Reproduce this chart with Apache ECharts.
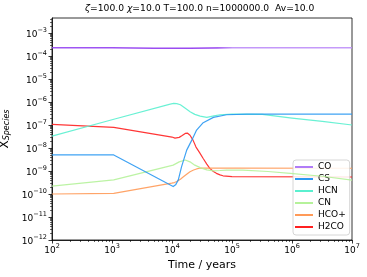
<!DOCTYPE html>
<html><head><meta charset="utf-8">
<script src="https://cdn.jsdelivr.net/npm/echarts@6/dist/echarts.min.js"></script>
<style>html,body{margin:0;padding:0;background:#fff}#c{width:367px;height:277px}</style>
</head><body><div id="c"></div>
<script>
// ---- data ----
const speciesNames = ['CO', 'CS', 'HCN', 'CN', 'HCO+', 'H2CO'];
const colors = ['#8f3cf5', '#2a98f2', '#5af0cf', '#b5f29a', '#ff9a58', '#ff2020'];

const tCO = [1e2, 1e3, 5e3, 1e4, 2e4, 1e5, 1e6, 1e7];
const xCO = [2.3e-4, 2.3e-4, 2.2e-4, 2.15e-4, 2.2e-4, 2.3e-4, 2.3e-4, 2.3e-4];

const tCS = [1e2, 1070, 10470, 11480, 12740, 14450, 17580, 21380, 25700, 33110, 48980, 81280, 177800, 1e7];
const xCS = [5.0e-9, 5.0e-9, 2.1e-10, 2.5e-10, 4.1e-10, 1.55e-9, 8.1e-9, 2.2e-8, 6.0e-8, 1.26e-7, 2.15e-7, 2.8e-7, 3.0e-7, 3.0e-7];

const tHCN = [1e2, 1e3, 9330, 10700, 12000, 13800, 15800, 17800, 20000, 24000, 29500, 38000, 50100, 63100, 1e5, 3.2e5, 1e6, 3.2e6, 1e7];
const xHCN = [3.3e-8, 1.7e-7, 8.1e-7, 8.7e-7, 8.5e-7, 7.6e-7, 5.9e-7, 4.7e-7, 3.8e-7, 2.9e-7, 2.45e-7, 2.15e-7, 2.5e-7, 2.8e-7, 3.0e-7, 2.9e-7, 2.0e-7, 1.45e-7, 1.0e-7];

const tCN = [1e2, 1070, 10470, 13180, 16600, 19950, 23990, 29510, 38020, 48980, 63100, 81280, 151400, 398100, 933300, 3.16e6, 1e7];
const xCN = [2.2e-10, 4.1e-10, 1.8e-9, 2.5e-9, 3.0e-9, 2.5e-9, 1.8e-9, 1.4e-9, 1.12e-9, 1.02e-9, 1.05e-9, 1.1e-9, 1.1e-9, 9.5e-10, 7.9e-10, 5.9e-10, 4.0e-10];

const tHCOp = [1e2, 1070, 9886, 10960, 12020, 13800, 15490, 17780, 19950, 22910, 25700, 28840, 33110, 1e5, 1e7];
const xHCOp = [1.0e-10, 1.07e-10, 2.95e-10, 3.15e-10, 3.5e-10, 4.4e-10, 5.6e-10, 7.4e-10, 9.3e-10, 1.1e-9, 1.23e-9, 1.32e-9, 1.35e-9, 1.33e-9, 1.32e-9];

const tH2CO = [1e2, 1070, 1e4, 11220, 12020, 13180, 14790, 16600, 18200, 19950, 22390, 25120, 28840, 33110, 38020, 42660, 48980, 54950, 63100, 70790, 1e5, 1e7];
const xH2CO = [1.07e-7, 7.9e-8, 3.0e-8, 2.7e-8, 2.6e-8, 2.9e-8, 3.5e-8, 4.3e-8, 4.4e-8, 3.6e-8, 2.2e-8, 1.1e-8, 6.3e-9, 3.5e-9, 2.0e-9, 1.3e-9, 9.5e-10, 7.9e-10, 6.8e-10, 6.2e-10, 5.75e-10, 5.5e-10];

const xMajor = [1e2, 1e3, 1e4, 1e5, 1e6, 1e7];
const yMajor = [1e-12, 1e-11, 1e-10, 1e-9, 1e-8, 1e-7, 1e-6, 1e-5, 1e-4, 1e-3];
const xMin = 1e2, xMax = 1e7, yMin = 1e-12, yMax = 4.5e-3;

const titleText = '{i|ζ}=100.0 {i|χ}=10.0 T=100.0 n=1000000.0  Av=10.0';
// ---------------------------------------

function minors(lo, hi) {
  const out = [];
  for (let e = Math.floor(Math.log10(lo)); e <= Math.ceil(Math.log10(hi)); e++) {
    for (let k = 2; k <= 9; k++) {
      const v = k * Math.pow(10, e);
      if (v > lo && v < hi) out.push(v);
    }
  }
  return out;
}
const FF = 'DejaVu Sans';
function pow10Label(v) {
  const e = Math.round(Math.log10(v));
  return '{b|10}{s|' + (e < 0 ? '\u2212' + (-e) : e) + '}';
}
const richLab = {
  b: { fontSize: 9, fontFamily: FF, color: '#000', padding: [3, 0, 0, 0] },
  s: { fontSize: 6.5, fontFamily: FF, color: '#000', verticalAlign: 'top' }
};
function zip(t, x) { return t.map((v, i) => [v, x[i]]); }

const seriesData = [zip(tCO, xCO), zip(tCS, xCS), zip(tHCN, xHCN), zip(tCN, xCN), zip(tHCOp, xHCOp), zip(tH2CO, xH2CO)];

const series = speciesNames.map((n, i) => ({
  name: n, type: 'line', data: seriesData[i], xAxisIndex: 0, yAxisIndex: 0,
  showSymbol: false, symbol: 'none', smooth: false, silent: true,
  lineStyle: {
    width: i === 0 ? 1.5 : 1.2, opacity: 0.9, join: 'round',
    color: i === 0 ? { type: 'linear', x: 0, y: 0, x2: 1, y2: 0, colorStops: [
      { offset: 0, color: '#9545f2' }, { offset: 0.55, color: '#8d33ee' },
      { offset: 0.6, color: '#bc8cf8' }, { offset: 1, color: '#bf90f9' }] } : colors[i]
  },
  itemStyle: { color: i === 0 ? '#b07cf7' : colors[i] },
  z: 2 + (5 - i)
}));

const axisLineStyle = { color: '#000', width: 0.8 };
const chart = echarts.init(document.getElementById('c'), null, { renderer: 'canvas' });
chart.setOption({
  animation: false,
  backgroundColor: '#fff',
  title: {
    text: titleText, left: 85, top: 4, padding: 0,
    textStyle: { fontSize: 9.2, fontWeight: 'normal', fontFamily: FF, color: '#000',
      rich: { i: { fontSize: 9.2, fontStyle: 'italic', fontFamily: FF, color: '#000' } } }
  },
  grid: { left: 52, right: 15, top: 18, bottom: 37, show: true, borderColor: '#000', borderWidth: 0.8,
    containLabel: false, outerBoundsMode: 'none' },
  legend: {
    data: speciesNames, orient: 'vertical', left: 293, top: 160,
    width: 55, padding: [2, 4, 3, 2], itemGap: 2, itemWidth: 18, itemHeight: 2,
    icon: 'rect', backgroundColor: 'rgba(255,255,255,0.85)', borderColor: '#cccccc', borderWidth: 0.8, borderRadius: 3,
    textStyle: { fontSize: 9, fontFamily: FF, color: '#000', lineHeight: 10, padding: [0, 0, 0, 0] },
    itemStyle: { opacity: 1 }, selectedMode: false
  },
  xAxis: [{
    type: 'log', logBase: 10, min: xMin, max: xMax, position: 'bottom',
    name: 'Time / years', nameLocation: 'middle', nameGap: 20,
    nameTextStyle: { fontSize: 11, fontFamily: FF, color: '#000' },
    axisLine: { show: true, lineStyle: axisLineStyle },
    axisTick: { show: true, inside: false, length: 3.5, customValues: xMajor, lineStyle: axisLineStyle },
    axisLabel: { customValues: xMajor, formatter: pow10Label, rich: richLab, margin: 3, color: '#000' },
    splitLine: { show: false }, minorTick: { show: false }
  }, {
    type: 'log', logBase: 10, min: xMin, max: xMax, position: 'bottom', offset: 0,
    axisLine: { show: false },
    axisTick: { show: true, inside: false, length: 2, customValues: minors(xMin, xMax), lineStyle: { color: '#000', width: 0.6 } },
    axisLabel: { show: false }, splitLine: { show: false }
  }],
  yAxis: [{
    type: 'log', logBase: 10, min: yMin, max: yMax, position: 'left',
    name: '{x|X}{s|Species}', nameLocation: 'middle', nameRotate: 90, nameGap: 30,
    nameTextStyle: { rich: {
      x: { fontSize: 12, fontFamily: FF, color: '#000' },
      s: { fontSize: 8, fontFamily: FF, fontStyle: 'italic', color: '#000', padding: [5, 0, 0, 0] } } },
    axisLine: { show: true, lineStyle: axisLineStyle },
    axisTick: { show: true, inside: false, length: 3.5, customValues: yMajor, lineStyle: axisLineStyle },
    axisLabel: { customValues: yMajor, formatter: pow10Label, rich: richLab, margin: 5, color: '#000' },
    splitLine: { show: false }
  }, {
    type: 'log', logBase: 10, min: yMin, max: yMax, position: 'left', offset: 0,
    axisLine: { show: false },
    axisTick: { show: true, inside: false, length: 2, customValues: minors(yMin, yMax), lineStyle: { color: '#000', width: 0.6 } },
    axisLabel: { show: false }, splitLine: { show: false }
  }],
  series: series
});
</script></body></html>
